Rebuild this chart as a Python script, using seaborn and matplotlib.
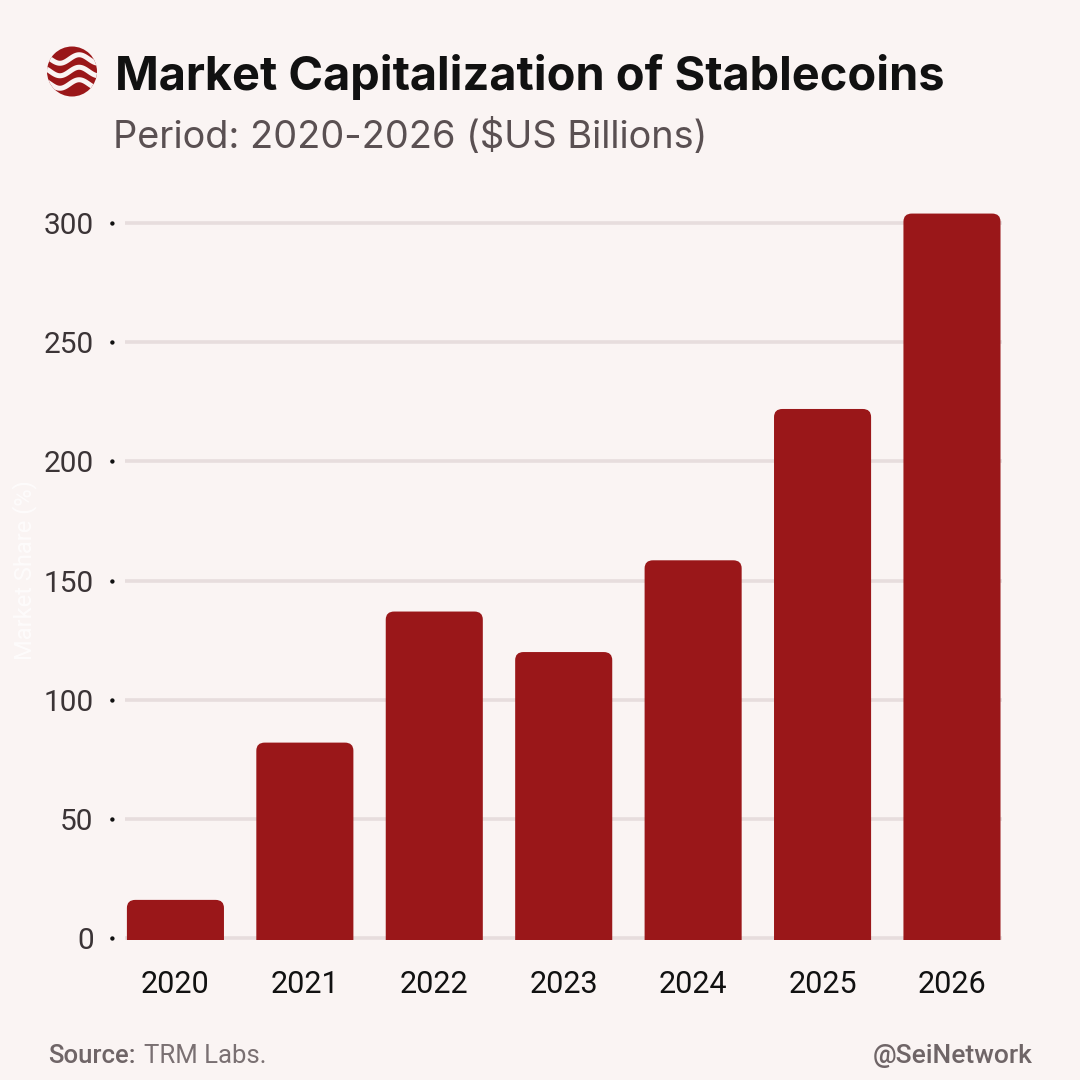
import numpy as np
import pandas as pd
import matplotlib
matplotlib.use("Agg")
import matplotlib.pyplot as plt
import seaborn as sns
from matplotlib.patches import FancyBboxPatch, Circle
from matplotlib.path import Path
from matplotlib.markers import MarkerStyle

# ---- data ----
years = ["2020", "2021", "2022", "2023", "2024", "2025", "2026"]
market_cap = [16, 82, 137, 120, 158.5, 222, 304]
y_ticks = [0, 50, 100, 150, 200, 250, 300]

title = "Market Capitalization of Stablecoins"
subtitle = "Period: 2020-2026 ($US Billions)"
y_label = "Market Share (%)"
source_lead = "Source:"
source = "TRM Labs."
handle = "@SeiNetwork"

BG = "#faf4f3"
BAR = "#9a1719"
GRID = "#e7dddd"

sns.set_theme(style="white")
plt.rcParams["font.family"] = ["Roboto", "DejaVu Sans"]

fig = plt.figure(figsize=(10.8, 10.8), dpi=100, facecolor=BG)
ax = fig.add_axes([0.1157, 0.1297, 0.8125, 0.6858], facecolor=BG)

df = pd.DataFrame({"year": years, "value": market_cap})
sns.barplot(data=df, x="year", y="value", color=BAR, width=0.75, ax=ax,
            saturation=1, edgecolor="none", zorder=3)

ax.set_xlim(-0.39, 6.39)
ax.set_ylim(-0.8, 310)

# rounded bars: replace rectangles with rounded boxes (same geometry)
patches = list(ax.patches)
for p in patches:
    x, w, h = p.get_x(), p.get_width(), p.get_height()
    fb = FancyBboxPatch((x, -12), w, h + 12,
                        boxstyle="round,pad=0,rounding_size=0.065",
                        mutation_aspect=52, facecolor=BAR, edgecolor="none",
                        zorder=3)
    p.remove()
    ax.add_patch(fb)

ax.set_yticks(y_ticks)
ax.set_yticklabels([str(v) for v in y_ticks])
for s in ax.spines.values():
    s.set_visible(False)
ax.yaxis.grid(True, color=GRID, linewidth=2.6, zorder=0)
ax.xaxis.grid(False)
ax.set_axisbelow(True)

ax.tick_params(axis="y", left=True, pad=16.5, labelsize=21.5,
               labelcolor="#3b3436")
ax.tick_params(axis="x", bottom=False, length=0, pad=21.5, labelsize=22,
               labelcolor="#111111")

# dot tick marks left of axis
theta = np.linspace(0, 2 * np.pi, 30)
verts = np.column_stack([np.cos(theta) - 6.0, np.sin(theta)])
dot = MarkerStyle(Path(verts, closed=True))
for t in ax.yaxis.get_major_ticks():
    t.tick1line.set_visible(True)
    t.tick1line.set_marker(dot)
    t.tick1line.set_markersize(22)
    t.tick1line.set_markerfacecolor("#111111")
    t.tick1line.set_markeredgecolor("#111111")
    t.tick1line.set_markeredgewidth(0)

ax.set_xlabel("")
ax.set_ylabel(y_label, color="#fefcfc", fontsize=17)
ax.yaxis.set_label_coords(-0.1, 0.5)

# title block
fig.text(0.1065, 1 - 89.5 / 1080, title, fontsize=33.8, fontweight="bold",
         color="#111111", family=["Inter", "DejaVu Sans"], va="baseline")
fig.text(0.1045, 1 - 148 / 1080, subtitle, fontsize=27.3, color="#5a5052",
         family=["Inter", "DejaVu Sans"], va="baseline")

# logo
cx, cy, r = 72 / 1080, 1 - 71.5 / 1080, 25 / 1080
circ = Circle((cx, cy), r, transform=fig.transFigure, facecolor=BAR,
              edgecolor="none")
fig.patches.append(circ)
xs = np.linspace(cx - r, cx + r, 80)
for off in (-0.5, 0.0, 0.5):
    ys = cy + off * r + 0.17 * r * np.sin((xs - cx) / r * np.pi * 1.3 + 0.4)
    ln = plt.Line2D(xs, ys, transform=fig.transFigure, color=BG, lw=3.6,
                    solid_capstyle="round")
    ln.set_clip_path(circ)
    fig.lines.append(ln)

# footer
t1 = fig.text(0.0445, 1 - 1063 / 1080, source_lead, fontsize=18.5,
              color="#6f6567", fontweight="medium", va="baseline")
fig.canvas.draw()
ext = t1.get_window_extent()
fig.text((ext.x1 + 8) / 1080, 1 - 1063 / 1080, source, fontsize=18.5,
         color="#7a7072", va="baseline")
fig.text(0.956, 1 - 1063 / 1080, handle, fontsize=19, color="#6f6567",
         fontweight="medium", ha="right", va="baseline")

fig.savefig("out.png", dpi=100, facecolor=BG)
